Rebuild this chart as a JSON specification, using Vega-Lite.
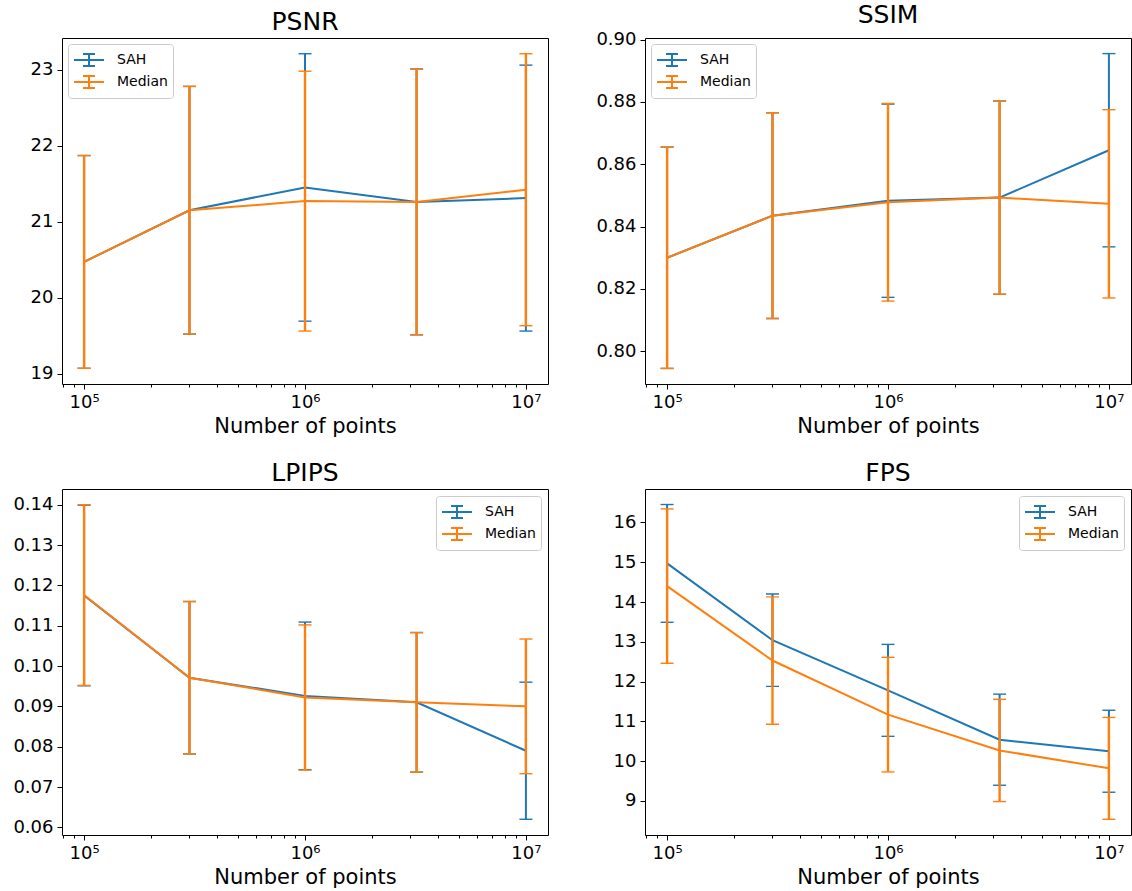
{
  "$schema": "https://vega.github.io/schema/vega-lite/v6.json",
  "padding": {"left": 12, "top": 2, "right": 0, "bottom": 5},
  "background": "white",
  "data": {"values": [
    {"metric": "PSNR", "n": 100000, "series": "SAH", "v": 20.47, "e": 1.40},
    {"metric": "PSNR", "n": 300000, "series": "SAH", "v": 21.15, "e": 1.63},
    {"metric": "PSNR", "n": 1000000, "series": "SAH", "v": 21.45, "e": 1.76},
    {"metric": "PSNR", "n": 3200000, "series": "SAH", "v": 21.26, "e": 1.75},
    {"metric": "PSNR", "n": 10000000, "series": "SAH", "v": 21.31, "e": 1.75},
    {"metric": "PSNR", "n": 100000, "series": "Median", "v": 20.47, "e": 1.40},
    {"metric": "PSNR", "n": 300000, "series": "Median", "v": 21.15, "e": 1.63},
    {"metric": "PSNR", "n": 1000000, "series": "Median", "v": 21.27, "e": 1.71},
    {"metric": "PSNR", "n": 3200000, "series": "Median", "v": 21.26, "e": 1.75},
    {"metric": "PSNR", "n": 10000000, "series": "Median", "v": 21.42, "e": 1.79},
    {"metric": "SSIM", "n": 100000, "series": "SAH", "v": 0.830, "e": 0.0355},
    {"metric": "SSIM", "n": 300000, "series": "SAH", "v": 0.8435, "e": 0.033},
    {"metric": "SSIM", "n": 1000000, "series": "SAH", "v": 0.8483, "e": 0.031},
    {"metric": "SSIM", "n": 3200000, "series": "SAH", "v": 0.8493, "e": 0.031},
    {"metric": "SSIM", "n": 10000000, "series": "SAH", "v": 0.8645, "e": 0.031},
    {"metric": "SSIM", "n": 100000, "series": "Median", "v": 0.830, "e": 0.0355},
    {"metric": "SSIM", "n": 300000, "series": "Median", "v": 0.8435, "e": 0.033},
    {"metric": "SSIM", "n": 1000000, "series": "Median", "v": 0.8478, "e": 0.0317},
    {"metric": "SSIM", "n": 3200000, "series": "Median", "v": 0.8493, "e": 0.031},
    {"metric": "SSIM", "n": 10000000, "series": "Median", "v": 0.8473, "e": 0.0302},
    {"metric": "LPIPS", "n": 100000, "series": "SAH", "v": 0.1175, "e": 0.0224},
    {"metric": "LPIPS", "n": 300000, "series": "SAH", "v": 0.0971, "e": 0.0189},
    {"metric": "LPIPS", "n": 1000000, "series": "SAH", "v": 0.0926, "e": 0.0183},
    {"metric": "LPIPS", "n": 3200000, "series": "SAH", "v": 0.0910, "e": 0.0173},
    {"metric": "LPIPS", "n": 10000000, "series": "SAH", "v": 0.0790, "e": 0.0170},
    {"metric": "LPIPS", "n": 100000, "series": "Median", "v": 0.1176, "e": 0.0224},
    {"metric": "LPIPS", "n": 300000, "series": "Median", "v": 0.0971, "e": 0.0189},
    {"metric": "LPIPS", "n": 1000000, "series": "Median", "v": 0.0922, "e": 0.0180},
    {"metric": "LPIPS", "n": 3200000, "series": "Median", "v": 0.0910, "e": 0.0173},
    {"metric": "LPIPS", "n": 10000000, "series": "Median", "v": 0.0900, "e": 0.0167},
    {"metric": "FPS", "n": 100000, "series": "SAH", "v": 14.97, "e": 1.48},
    {"metric": "FPS", "n": 300000, "series": "SAH", "v": 13.04, "e": 1.16},
    {"metric": "FPS", "n": 1000000, "series": "SAH", "v": 11.78, "e": 1.155},
    {"metric": "FPS", "n": 3200000, "series": "SAH", "v": 10.54, "e": 1.145},
    {"metric": "FPS", "n": 10000000, "series": "SAH", "v": 10.25, "e": 1.03},
    {"metric": "FPS", "n": 100000, "series": "Median", "v": 14.40, "e": 1.94},
    {"metric": "FPS", "n": 300000, "series": "Median", "v": 12.53, "e": 1.60},
    {"metric": "FPS", "n": 1000000, "series": "Median", "v": 11.17, "e": 1.44},
    {"metric": "FPS", "n": 3200000, "series": "Median", "v": 10.27, "e": 1.285},
    {"metric": "FPS", "n": 10000000, "series": "Median", "v": 9.82, "e": 1.28}
  ]},
  "columns": 2,
  "spacing": {"row": 105, "column": 97},
  "bounds": "flush",
  "resolve": {"scale": {"y": "independent", "x": "independent"}, "legend": {"color": "independent"}},
  "concat": [
    {
      "title": "PSNR", "width": 486, "height": 346,
      "transform": [{"filter": "datum.metric == 'PSNR'"}],
      "encoding": {
        "x": {"field": "n", "type": "quantitative", "title": "Number of points",
              "scale": {"type": "log", "domain": [79432.8, 12589254], "nice": false},
              "axis": {"values": [80000, 90000, 100000, 200000, 300000, 400000, 500000, 600000, 700000, 800000, 900000, 1000000, 2000000, 3000000, 4000000, 5000000, 6000000, 7000000, 8000000, 9000000, 10000000],
                       "labelExpr": "datum.value == 100000 ? '10⁵' : datum.value == 1000000 ? '10⁶' : datum.value == 10000000 ? '10⁷' : ''",
                       "tickSize": {"condition": {"test": "indexof([100000,1000000,10000000], datum.value) >= 0", "value": 5}, "value": 3}}},
        "y": {"field": "v", "type": "quantitative", "title": null,
              "scale": {"domain": [18.863, 23.417], "nice": false, "zero": false},
              "axis": {"values": [19, 20, 21, 22, 23]}},
        "color": {"field": "series", "type": "nominal",
                  "scale": {"domain": ["SAH", "Median"], "range": ["#1f77b4", "#ff7f0e"]},
                  "legend": {"orient": "top-left", "offset": 6}}
      },
      "layer": [
        {"transform": [{"filter": "datum.series == 'SAH'"}], "mark": {"type": "errorbar", "opacity": 1, "ticks": {"thickness": 1.4, "opacity": 1}, "size": 13, "thickness": 2}, "encoding": {"yError": {"field": "e"}}},
        {"transform": [{"filter": "datum.series == 'SAH'"}], "mark": {"type": "line", "strokeWidth": 2}},
        {"transform": [{"filter": "datum.series == 'Median'"}], "mark": {"type": "errorbar", "opacity": 1, "ticks": {"thickness": 1.4, "opacity": 1}, "size": 13, "thickness": 2.4}, "encoding": {"yError": {"field": "e"}}},
        {"transform": [{"filter": "datum.series == 'Median'"}], "mark": {"type": "line", "strokeWidth": 2}}
      ]
    },
    {
      "title": "SSIM", "width": 486, "height": 346,
      "transform": [{"filter": "datum.metric == 'SSIM'"}],
      "encoding": {
        "x": {"field": "n", "type": "quantitative", "title": "Number of points",
              "scale": {"type": "log", "domain": [79432.8, 12589254], "nice": false},
              "axis": {"values": [80000, 90000, 100000, 200000, 300000, 400000, 500000, 600000, 700000, 800000, 900000, 1000000, 2000000, 3000000, 4000000, 5000000, 6000000, 7000000, 8000000, 9000000, 10000000],
                       "labelExpr": "datum.value == 100000 ? '10⁵' : datum.value == 1000000 ? '10⁶' : datum.value == 10000000 ? '10⁷' : ''",
                       "tickSize": {"condition": {"test": "indexof([100000,1000000,10000000], datum.value) >= 0", "value": 5}, "value": 3}}},
        "y": {"field": "v", "type": "quantitative", "title": null,
              "scale": {"domain": [0.7895, 0.9005], "nice": false, "zero": false},
              "axis": {"values": [0.80, 0.82, 0.84, 0.86, 0.88, 0.90], "format": ".2f"}},
        "color": {"field": "series", "type": "nominal",
                  "scale": {"domain": ["SAH", "Median"], "range": ["#1f77b4", "#ff7f0e"]},
                  "legend": {"orient": "top-left", "offset": 6}}
      },
      "layer": [
        {"transform": [{"filter": "datum.series == 'SAH'"}], "mark": {"type": "errorbar", "opacity": 1, "ticks": {"thickness": 1.4, "opacity": 1}, "size": 13, "thickness": 2}, "encoding": {"yError": {"field": "e"}}},
        {"transform": [{"filter": "datum.series == 'SAH'"}], "mark": {"type": "line", "strokeWidth": 2}},
        {"transform": [{"filter": "datum.series == 'Median'"}], "mark": {"type": "errorbar", "opacity": 1, "ticks": {"thickness": 1.4, "opacity": 1}, "size": 13, "thickness": 2.4}, "encoding": {"yError": {"field": "e"}}},
        {"transform": [{"filter": "datum.series == 'Median'"}], "mark": {"type": "line", "strokeWidth": 2}}
      ]
    },
    {
      "title": "LPIPS", "width": 486, "height": 346,
      "transform": [{"filter": "datum.metric == 'LPIPS'"}],
      "encoding": {
        "x": {"field": "n", "type": "quantitative", "title": "Number of points",
              "scale": {"type": "log", "domain": [79432.8, 12589254], "nice": false},
              "axis": {"values": [80000, 90000, 100000, 200000, 300000, 400000, 500000, 600000, 700000, 800000, 900000, 1000000, 2000000, 3000000, 4000000, 5000000, 6000000, 7000000, 8000000, 9000000, 10000000],
                       "labelExpr": "datum.value == 100000 ? '10⁵' : datum.value == 1000000 ? '10⁶' : datum.value == 10000000 ? '10⁷' : ''",
                       "tickSize": {"condition": {"test": "indexof([100000,1000000,10000000], datum.value) >= 0", "value": 5}, "value": 3}}},
        "y": {"field": "v", "type": "quantitative", "title": null,
              "scale": {"domain": [0.0581, 0.1439], "nice": false, "zero": false},
              "axis": {"values": [0.06, 0.07, 0.08, 0.09, 0.10, 0.11, 0.12, 0.13, 0.14], "format": ".2f"}},
        "color": {"field": "series", "type": "nominal",
                  "scale": {"domain": ["SAH", "Median"], "range": ["#1f77b4", "#ff7f0e"]},
                  "legend": {"orient": "top-right", "offset": 7}}
      },
      "layer": [
        {"transform": [{"filter": "datum.series == 'SAH'"}], "mark": {"type": "errorbar", "opacity": 1, "ticks": {"thickness": 1.4, "opacity": 1}, "size": 13, "thickness": 2}, "encoding": {"yError": {"field": "e"}}},
        {"transform": [{"filter": "datum.series == 'SAH'"}], "mark": {"type": "line", "strokeWidth": 2}},
        {"transform": [{"filter": "datum.series == 'Median'"}], "mark": {"type": "errorbar", "opacity": 1, "ticks": {"thickness": 1.4, "opacity": 1}, "size": 13, "thickness": 2.4}, "encoding": {"yError": {"field": "e"}}},
        {"transform": [{"filter": "datum.series == 'Median'"}], "mark": {"type": "line", "strokeWidth": 2}}
      ]
    },
    {
      "title": "FPS", "width": 486, "height": 346,
      "transform": [{"filter": "datum.metric == 'FPS'"}],
      "encoding": {
        "x": {"field": "n", "type": "quantitative", "title": "Number of points",
              "scale": {"type": "log", "domain": [79432.8, 12589254], "nice": false},
              "axis": {"values": [80000, 90000, 100000, 200000, 300000, 400000, 500000, 600000, 700000, 800000, 900000, 1000000, 2000000, 3000000, 4000000, 5000000, 6000000, 7000000, 8000000, 9000000, 10000000],
                       "labelExpr": "datum.value == 100000 ? '10⁵' : datum.value == 1000000 ? '10⁶' : datum.value == 10000000 ? '10⁷' : ''",
                       "tickSize": {"condition": {"test": "indexof([100000,1000000,10000000], datum.value) >= 0", "value": 5}, "value": 3}}},
        "y": {"field": "v", "type": "quantitative", "title": null,
              "scale": {"domain": [8.145, 16.84], "nice": false, "zero": false},
              "axis": {"values": [9, 10, 11, 12, 13, 14, 15, 16]}},
        "color": {"field": "series", "type": "nominal",
                  "scale": {"domain": ["SAH", "Median"], "range": ["#1f77b4", "#ff7f0e"]},
                  "legend": {"orient": "top-right", "offset": 7}}
      },
      "layer": [
        {"transform": [{"filter": "datum.series == 'SAH'"}], "mark": {"type": "errorbar", "opacity": 1, "ticks": {"thickness": 1.4, "opacity": 1}, "size": 13, "thickness": 2}, "encoding": {"yError": {"field": "e"}}},
        {"transform": [{"filter": "datum.series == 'SAH'"}], "mark": {"type": "line", "strokeWidth": 2}},
        {"transform": [{"filter": "datum.series == 'Median'"}], "mark": {"type": "errorbar", "opacity": 1, "ticks": {"thickness": 1.4, "opacity": 1}, "size": 13, "thickness": 2.4}, "encoding": {"yError": {"field": "e"}}},
        {"transform": [{"filter": "datum.series == 'Median'"}], "mark": {"type": "line", "strokeWidth": 2}}
      ]
    }
  ],
  "config": {
    "font": "DejaVu Sans",
    "view": {"stroke": "black", "strokeWidth": 1},
    "axis": {"grid": false, "domain": false, "tickColor": "black", "tickSize": 5, "tickWidth": 1,
             "labelColor": "black", "labelFontSize": 18, "labelPadding": 4, "labelFont": "DejaVu Sans",
             "titleFont": "DejaVu Sans", "titleFontSize": 21, "titleFontWeight": "normal", "titleColor": "black",
             "titlePadding": 4, "labelOverlap": false, "labelFlush": false},
    "title": {"fontSize": 25, "fontWeight": "normal", "font": "DejaVu Sans", "color": "black", "offset": 3},
    "legend": {"title": null, "symbolType": "M-1,0H1M0,-0.4V0.4M-0.4,-0.4H0.4M-0.4,0.4H0.4",
               "symbolSize": 900, "symbolStrokeWidth": 2, "labelFontSize": 14, "labelFont": "DejaVu Sans",
               "labelColor": "black", "labelOffset": 12, "padding": 5, "fillColor": "rgba(255,255,255,0.8)",
               "strokeColor": "#cccccc", "cornerRadius": 3, "clipHeight": 22, "rowPadding": 0}
  }
}
